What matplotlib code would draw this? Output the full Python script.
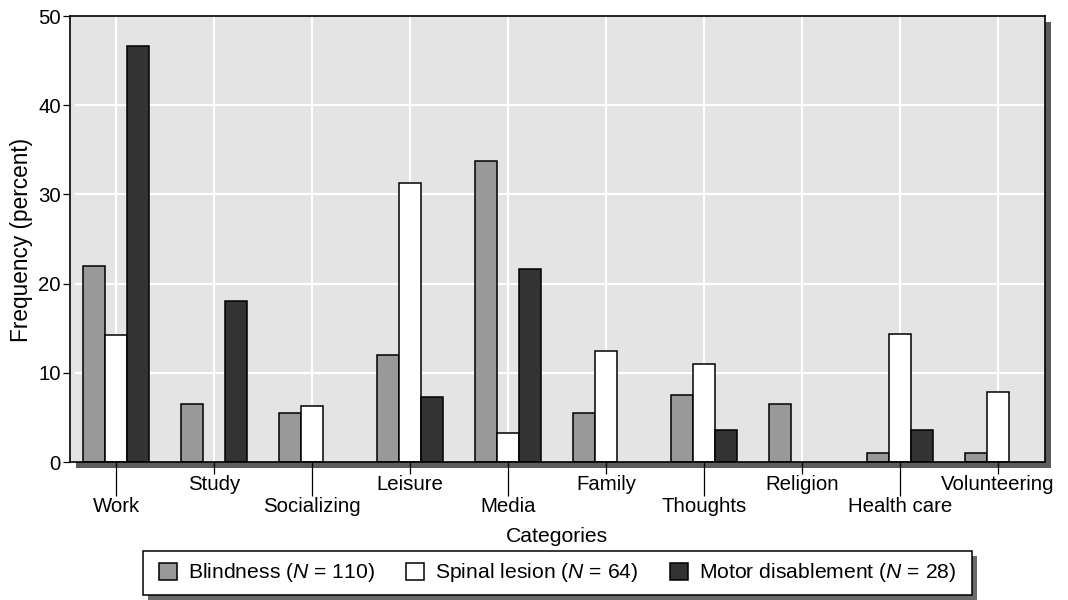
import matplotlib
matplotlib.use("Agg")
import matplotlib.pyplot as plt
from matplotlib.patches import Rectangle
import numpy as np

categories = ["Work", "Study", "Socializing", "Leisure", "Media", "Family",
              "Thoughts", "Religion", "Health care", "Volunteering"]
blindness = [22.0, 6.5, 5.5, 12.0, 33.8, 5.5, 7.5, 6.5, 1.0, 1.0]
spinal = [14.2, 0.0, 6.3, 31.3, 3.2, 12.5, 11.0, 0.0, 14.3, 7.8]
motor = [46.6, 18.0, 0.0, 7.3, 21.6, 0.0, 3.6, 0.0, 3.6, 0.0]
series_labels = ["Blindness ($N$ = 110)", "Spinal lesion ($N$ = 64)",
                 "Motor disablement ($N$ = 28)"]
yticks = [0, 10, 20, 30, 40, 50]

plt.rcParams['font.family'] = ['Liberation Sans', 'DejaVu Sans']
plt.rcParams['mathtext.fontset'] = 'custom'
plt.rcParams['mathtext.rm'] = 'Liberation Sans'
plt.rcParams['mathtext.it'] = 'Liberation Sans:italic'

FS_TICK = 14.7
FS_LEG = 15.2
FS_YLAB = 16.3
FS_XLAB = 15.2
W, H = 1068, 600
fig = plt.figure(figsize=(W / 100, H / 100), dpi=100)
L, R, T, B = 70, 1045, 16, 462
ax = fig.add_axes([L / W, 1 - B / H, (R - L) / W, (B - T) / H])
ax.set_zorder(2)

# drop shadow of plot area
off = 6
fig.patches.append(Rectangle(((L + off) / W, 1 - (B + off) / H), (R - L) / W, (B - T) / H,
                             transform=fig.transFigure, facecolor='#5c5c5c',
                             edgecolor='none', zorder=-1))

ax.set_facecolor('#e4e4e4')
x = np.arange(len(categories))
w = 0.224
colors = ['#999999', '#ffffff', '#333333']
for i, (vals, col, lab) in enumerate(zip([blindness, spinal, motor], colors, series_labels)):
    bars = ax.bar(x + (i - 1) * w, vals, width=w, color=col, edgecolor='black',
                  linewidth=1.1, label=lab, zorder=3)
    for p, v in zip(bars.patches, vals):
        if v == 0:
            p.set_visible(False)

ax.set_xlim(-0.47, len(categories) - 1 + 0.48)
ax.set_ylim(0, 50)
ax.set_yticks(yticks)
for y in yticks[1:-1]:
    ax.axhline(y, xmin=0.006, color='white', lw=1.6, zorder=1)
for xi in x:
    ax.axvline(xi, color='white', lw=1.6, zorder=1)

# staggered category labels: lower set as major, upper set as minor
ax.set_xticks(x[0::2])
ax.set_xticklabels(categories[0::2])
ax.set_xticks(x[1::2], minor=True)
ax.set_xticklabels(categories[1::2], minor=True)
ax.tick_params(axis='x', which='major', length=24.5, width=0.9, pad=0.5, labelsize=FS_TICK)
ax.tick_params(axis='x', which='minor', length=8.6, width=0.9, pad=0.5, labelsize=FS_TICK)
ax.tick_params(axis='y', length=5, width=0.9, pad=1.5, labelsize=FS_TICK)

for s in ax.spines.values():
    s.set_linewidth(1.2)
    s.set_zorder(5)

ax.set_xlabel("Categories", fontsize=FS_XLAB)
ax.xaxis.set_label_coords((557 - L) / (R - L), -(525 - B) / (B - T) - 0.004)
ax.set_ylabel("Frequency (percent)", fontsize=FS_YLAB)
ax.yaxis.set_label_coords(-(L - 33) / (R - L), 0.498)

# legend with manually drawn frame and shadow
lx0, lx1, ly0, ly1 = 143, 972, 551, 595
loff = 5
fig.patches.append(Rectangle(((lx0 + loff) / W, 1 - (ly1 + loff) / H), (lx1 - lx0) / W,
                             (ly1 - ly0) / H, transform=fig.transFigure,
                             facecolor='#6a6a6a', edgecolor='none', zorder=-1))
fig.patches.append(Rectangle((lx0 / W, 1 - ly1 / H), (lx1 - lx0) / W, (ly1 - ly0) / H,
                             transform=fig.transFigure, facecolor='white',
                             edgecolor='black', linewidth=1.1, zorder=-0.5))
leg = ax.legend(loc='center', bbox_to_anchor=((lx0 + lx1) / 2 / W, 1 - (ly0 + ly1) / 2 / H),
                bbox_transform=fig.transFigure, ncol=3, frameon=False, fontsize=FS_LEG,
                handlelength=0.86, handleheight=0.86, handletextpad=0.5,
                columnspacing=1.5, borderpad=0.2)

fig.savefig("out.png", dpi=100)
